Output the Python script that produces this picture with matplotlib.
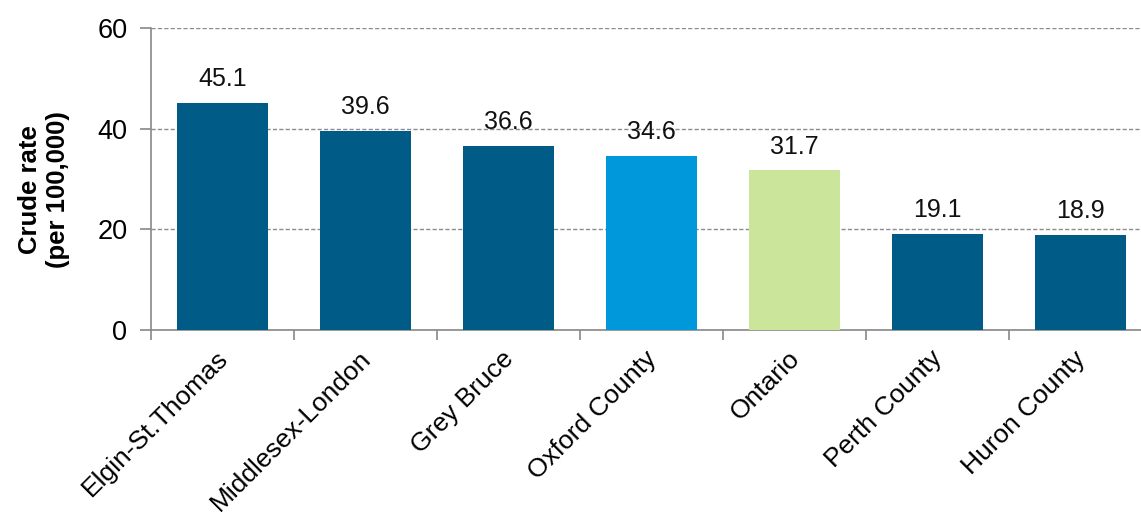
import matplotlib.pyplot as plt
from matplotlib.transforms import ScaledTranslation

plt.rcParams['font.family'] = ['Liberation Sans', 'DejaVu Sans']

regions = ['Elgin-St.Thomas', 'Middlesex-London', 'Grey Bruce', 'Oxford County',
           'Ontario', 'Perth County', 'Huron County']
rates = [45.1, 39.6, 36.6, 34.6, 31.7, 19.1, 18.9]
colors = ['#005B87', '#005B87', '#005B87', '#0098DA', '#CBE59B', '#005B87', '#005B87']

fig = plt.figure(figsize=(11.41, 5.14), dpi=100)
# axes run a little past the right edge, like the original export
ax = fig.add_axes([151 / 1141, 1 - 330 / 514, 1001 / 1141, 302 / 514])

x = range(len(regions))
ax.bar(x, rates, width=0.64, color=colors, zorder=3)
for i, v in enumerate(rates):
    ax.text(i, v + 2.3, f'{v:.1f}', ha='center', va='bottom', fontsize=18, color='#111111')

ax.set_xlim(-0.5, len(regions) - 0.5)
ax.set_ylim(0, 60)
ax.set_yticks([0, 20, 40, 60])
ax.yaxis.grid(True, linestyle=(0, (3, 1.6)), color='#8C8C8C', linewidth=1, zorder=0)

# ticks sit between the categories
ax.set_xticks([i + 0.5 for i in range(len(regions) - 1)] + [-0.5])
ax.set_xticklabels([])
ax.set_xticks(list(x), minor=True)
ax.set_xticklabels(regions, minor=True, rotation=45, ha='right',
                   rotation_mode='anchor', fontsize=19)
ax.tick_params(axis='x', which='minor', length=0, pad=9)
ax.tick_params(axis='x', which='major', length=7, color='#888888', width=1.2)
ax.tick_params(axis='y', length=8, color='#888888', width=1.2, labelsize=19.5, pad=9)

# nudge the slanted labels a little left and down
shift = ScaledTranslation(-0.07, -0.04, fig.dpi_scale_trans)
for lbl in ax.get_xticklabels(minor=True):
    lbl.set_transform(lbl.get_transform() + shift)

for s in ['top', 'right']:
    ax.spines[s].set_visible(False)
for s in ['left', 'bottom']:
    ax.spines[s].set_color('#888888')
    ax.spines[s].set_linewidth(1.2)

ax.set_ylabel('Crude rate\n(per 100,000)', fontsize=18.5, fontweight='bold')
ax.yaxis.set_label_coords(-0.081, 0.464)

fig.savefig('out.png', dpi=100)
